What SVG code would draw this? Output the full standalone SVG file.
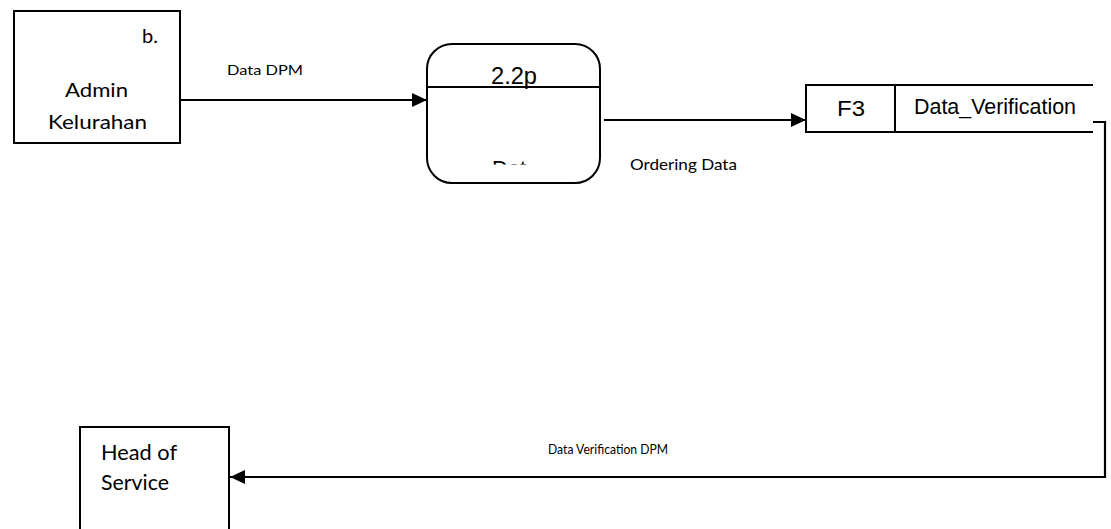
<svg xmlns="http://www.w3.org/2000/svg" width="1111" height="529" viewBox="0 0 1111 529">
  <style>
    .box { fill: #fff; stroke: #000; stroke-width: 2; }
    .ln { fill: none; stroke: #000; stroke-width: 2.2; }
    .cal { font-family: Lato, "Open Sans", sans-serif; fill: #000; }
    .ari { font-family: "Liberation Sans", Arial, sans-serif; fill: #000; }
  </style>
  <defs>
    <marker id="arr" markerUnits="userSpaceOnUse" markerWidth="16" markerHeight="14" refX="15" refY="7" orient="auto">
      <path d="M0,0 L15,7 L0,14 Z" fill="#000"/>
    </marker>
    <clipPath id="clipDat">
      <rect x="430" y="150" width="168" height="14.5"/>
    </clipPath>
  </defs>
  <rect width="1111" height="529" fill="#fff"/>

  <g id="admin-kelurahan">
    <rect class="box" x="14" y="11" width="166" height="132"/>
    <text class="cal" x="142" y="43" font-size="20" textLength="16">b.</text>
    <text class="cal" x="65" y="97" font-size="20" textLength="63" lengthAdjust="spacingAndGlyphs">Admin</text>
    <text class="cal" x="48" y="129" font-size="20" textLength="99" lengthAdjust="spacingAndGlyphs">Kelurahan</text>
  </g>

  <g id="process-2-2">
    <rect class="box" x="427" y="44" width="173" height="139" rx="25" ry="25"/>
    <line class="ln" x1="427" y1="87" x2="600" y2="87"/>
    <text class="ari" x="491" y="84" font-size="23" textLength="46" lengthAdjust="spacingAndGlyphs">2.2p</text>
    <text class="ari" x="492" y="176" font-size="22" clip-path="url(#clipDat)">Dat</text>
  </g>

  <g id="store-f3">
    <rect class="box" x="806" y="85" width="89" height="47"/>
    <line class="ln" x1="895" y1="85" x2="1093" y2="85"/>
    <line class="ln" x1="895" y1="132" x2="1093" y2="132"/>
    <text class="ari" x="837" y="116" font-size="22" textLength="28" lengthAdjust="spacingAndGlyphs">F3</text>
    <text class="ari" x="914" y="114" font-size="21.3" textLength="162" lengthAdjust="spacingAndGlyphs">Data_Verification</text>
  </g>

  <g id="head-of-service">
    <rect class="box" x="80" y="427" width="149" height="120"/>
    <text class="cal" x="101" y="460" font-size="21" textLength="76" lengthAdjust="spacingAndGlyphs">Head of</text>
    <text class="cal" x="101" y="490" font-size="21" textLength="68" lengthAdjust="spacingAndGlyphs">Service</text>
  </g>

  <g id="connectors">
    <line class="ln" x1="180" y1="100" x2="427" y2="100" marker-end="url(#arr)"/>
    <text class="cal" x="227" y="75" font-size="14" textLength="76" lengthAdjust="spacingAndGlyphs">Data DPM</text>
    <line class="ln" x1="604" y1="120" x2="806" y2="120" marker-end="url(#arr)"/>
    <text class="cal" x="630" y="170" font-size="15" textLength="107" lengthAdjust="spacingAndGlyphs">Ordering Data</text>
    <polyline class="ln" points="1093,122 1105,122 1105,477 230,477" marker-end="url(#arr)"/>
    <text class="cal" x="548" y="454" font-size="12.5" textLength="120" lengthAdjust="spacingAndGlyphs">Data Verification DPM</text>
  </g>
</svg>
